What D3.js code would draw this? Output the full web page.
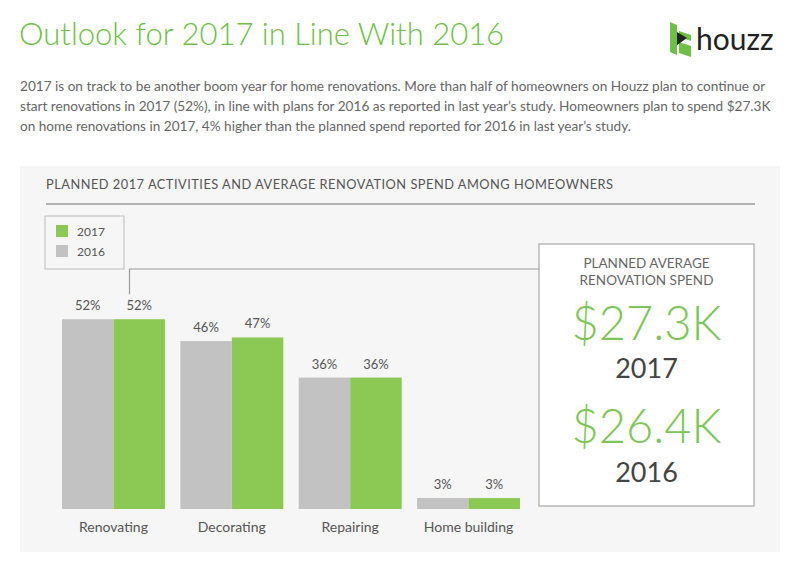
<!DOCTYPE html>
<html>
<head>
<meta charset="utf-8">
<script src="https://cdn.jsdelivr.net/npm/d3@7"></script>
<style>
  body { margin: 0; background: #fff; }
  svg text { font-family: Lato, "Open Sans", sans-serif; }
</style>
</head>
<body>
<div id="chart"></div>
<script>
// data
var categories = ["Renovating", "Decorating", "Repairing", "Home building"];
var series = ["2016", "2017"];
var values2016 = [52, 46, 36, 3];
var values2017 = [52, 47, 36, 3];
var spendLabels = ["$27.3K", "$26.4K"];
var spendYears = ["2017", "2016"];
var legendYears = ["2017", "2016"];
var paragraph = [
  "2017 is on track to be another boom year for home renovations. More than half of homeowners on Houzz plan to continue or",
  "start renovations in 2017 (52%), in line with plans for 2016 as reported in last year\u2019s study. Homeowners plan to spend $27.3K",
  "on home renovations in 2017, 4% higher than the planned spend reported for 2016 in last year\u2019s study."
];

var width = 799, height = 562;
var green = "#8cc854", grey = "#c2c2c2", textGrey = "#555";
var colour = { "2016": grey, "2017": green };

var svg = d3.select("#chart").append("svg")
    .attr("width", width)
    .attr("height", height);

// header
svg.append("text")
    .attr("x", 19).attr("y", 45)
    .attr("fill", "#6dbf45")
    .attr("font-size", 31)
    .attr("font-weight", 300)
    .text("Outlook for 2017 in Line With 2016");

// houzz logo
var logo = svg.append("g").attr("transform", "translate(670,22)");
logo.append("path").attr("d", "M0,0 L7,3 L7,33 L0,30 Z").attr("fill", "#6dbf45");
logo.append("path").attr("d", "M9,9 L21,13 L21,19 L9,15 Z").attr("fill", "#6dbf45");
logo.append("path").attr("d", "M9,20 L21,24 L21,35 L9,31 Z").attr("fill", "#6dbf45");
logo.append("path").attr("d", "M7,10 L17,16 L7,23 Z").attr("fill", "#222");
svg.append("text")
    .attr("x", 696).attr("y", 50)
    .attr("fill", "#222")
    .attr("font-size", 30)
    .text("houzz");

svg.append("g").selectAll("text")
  .data(paragraph)
  .enter().append("text")
    .attr("x", 20)
    .attr("y", function(d, i) { return 91 + i * 20; })
    .attr("fill", "#666")
    .attr("font-size", 13.6)
    .text(function(d) { return d; });

// grey panel
svg.append("rect")
    .attr("x", 20).attr("y", 166)
    .attr("width", 760).attr("height", 386)
    .attr("fill", "#f6f6f6");

svg.append("text")
    .attr("x", 46).attr("y", 189)
    .attr("fill", textGrey)
    .attr("font-size", 12.8)
    .attr("letter-spacing", 0.5)
    .text("PLANNED 2017 ACTIVITIES AND AVERAGE RENOVATION SPEND AMONG HOMEOWNERS");

svg.append("line")
    .attr("x1", 46).attr("x2", 755)
    .attr("y1", 204).attr("y2", 204)
    .attr("stroke", "#9a9a9a")
    .attr("stroke-width", 1.5);

// legend
var legend = svg.append("g");
legend.append("rect")
    .attr("x", 45).attr("y", 216)
    .attr("width", 79).attr("height", 53)
    .attr("fill", "none")
    .attr("stroke", "#bbb");
var legendItem = legend.selectAll("g.item")
  .data(legendYears)
  .enter().append("g")
    .attr("class", "item")
    .attr("transform", function(d, i) { return "translate(56," + (225 + i * 20) + ")"; });
legendItem.append("rect")
    .attr("width", 12).attr("height", 12)
    .attr("fill", function(d) { return colour[d]; });
legendItem.append("text")
    .attr("x", 21).attr("y", 11)
    .attr("fill", textGrey)
    .attr("font-size", 12)
    .text(function(d) { return d; });

// scales
var x0 = d3.scaleBand()
    .domain(categories)
    .range([62, 520])
    .paddingInner(0.13);

var x1 = d3.scaleBand()
    .domain(series)
    .range([0, x0.bandwidth()]);

var y = d3.scaleLinear()
    .domain([0, 60])
    .range([509, 290]);

var rows = categories.map(function(c, i) {
  return { category: c, values: [
    { key: "2016", value: values2016[i] },
    { key: "2017", value: values2017[i] }
  ]};
});

var groups = svg.append("g").selectAll("g")
  .data(rows)
  .enter().append("g")
    .attr("transform", function(d) { return "translate(" + x0(d.category) + ",0)"; });

groups.selectAll("rect")
  .data(function(d) { return d.values; })
  .enter().append("rect")
    .attr("x", function(d) { return x1(d.key); })
    .attr("y", function(d) { return y(d.value); })
    .attr("width", x1.bandwidth())
    .attr("height", function(d) { return y(0) - y(d.value); })
    .attr("fill", function(d) { return colour[d.key]; });

groups.selectAll("text.value")
  .data(function(d) { return d.values; })
  .enter().append("text")
    .attr("class", "value")
    .attr("x", function(d) { return x1(d.key) + x1.bandwidth() / 2; })
    .attr("y", function(d) { return y(d.value) - 9; })
    .attr("text-anchor", "middle")
    .attr("fill", textGrey)
    .attr("font-size", 13)
    .text(function(d) { return d.value + "%"; });

groups.append("text")
    .attr("x", x0.bandwidth() / 2)
    .attr("y", 532)
    .attr("text-anchor", "middle")
    .attr("fill", textGrey)
    .attr("font-size", 14)
    .text(function(d) { return d.category; });

// connector from the 2017 renovating bar to the spend box
var cx = x0(categories[0]) + x1("2017") + 16;
svg.append("path")
    .attr("d", "M" + cx + "," + (y(values2017[0]) - 25) + " V269 H539")
    .attr("fill", "none")
    .attr("stroke", "#9a9a9a")
    .attr("stroke-width", 1.2);

// spend box
var box = svg.append("g");
box.append("rect")
    .attr("x", 539).attr("y", 244)
    .attr("width", 215).attr("height", 262)
    .attr("fill", "#fff")
    .attr("stroke", "#a8a8a8")
    .attr("stroke-width", 1.2);

box.selectAll("text.head")
  .data(["PLANNED AVERAGE", "RENOVATION SPEND"])
  .enter().append("text")
    .attr("class", "head")
    .attr("x", 646.5)
    .attr("y", function(d, i) { return 268 + i * 17; })
    .attr("text-anchor", "middle")
    .attr("fill", "#666")
    .attr("font-size", 13.5)
    .text(function(d) { return d; });

box.selectAll("text.amount")
  .data(spendLabels)
  .enter().append("text")
    .attr("class", "amount")
    .attr("x", 646.5)
    .attr("y", function(d, i) { return 340 + i * 103; })
    .attr("text-anchor", "middle")
    .attr("fill", "#7cc657")
    .attr("font-size", 47)
    .attr("font-weight", 300)
    .text(function(d) { return d; });

box.selectAll("text.year")
  .data(spendYears)
  .enter().append("text")
    .attr("class", "year")
    .attr("x", 646.5)
    .attr("y", function(d, i) { return 378 + i * 104; })
    .attr("text-anchor", "middle")
    .attr("fill", "#444")
    .attr("font-size", 27)
    .text(function(d) { return d; });
</script>
</body>
</html>
